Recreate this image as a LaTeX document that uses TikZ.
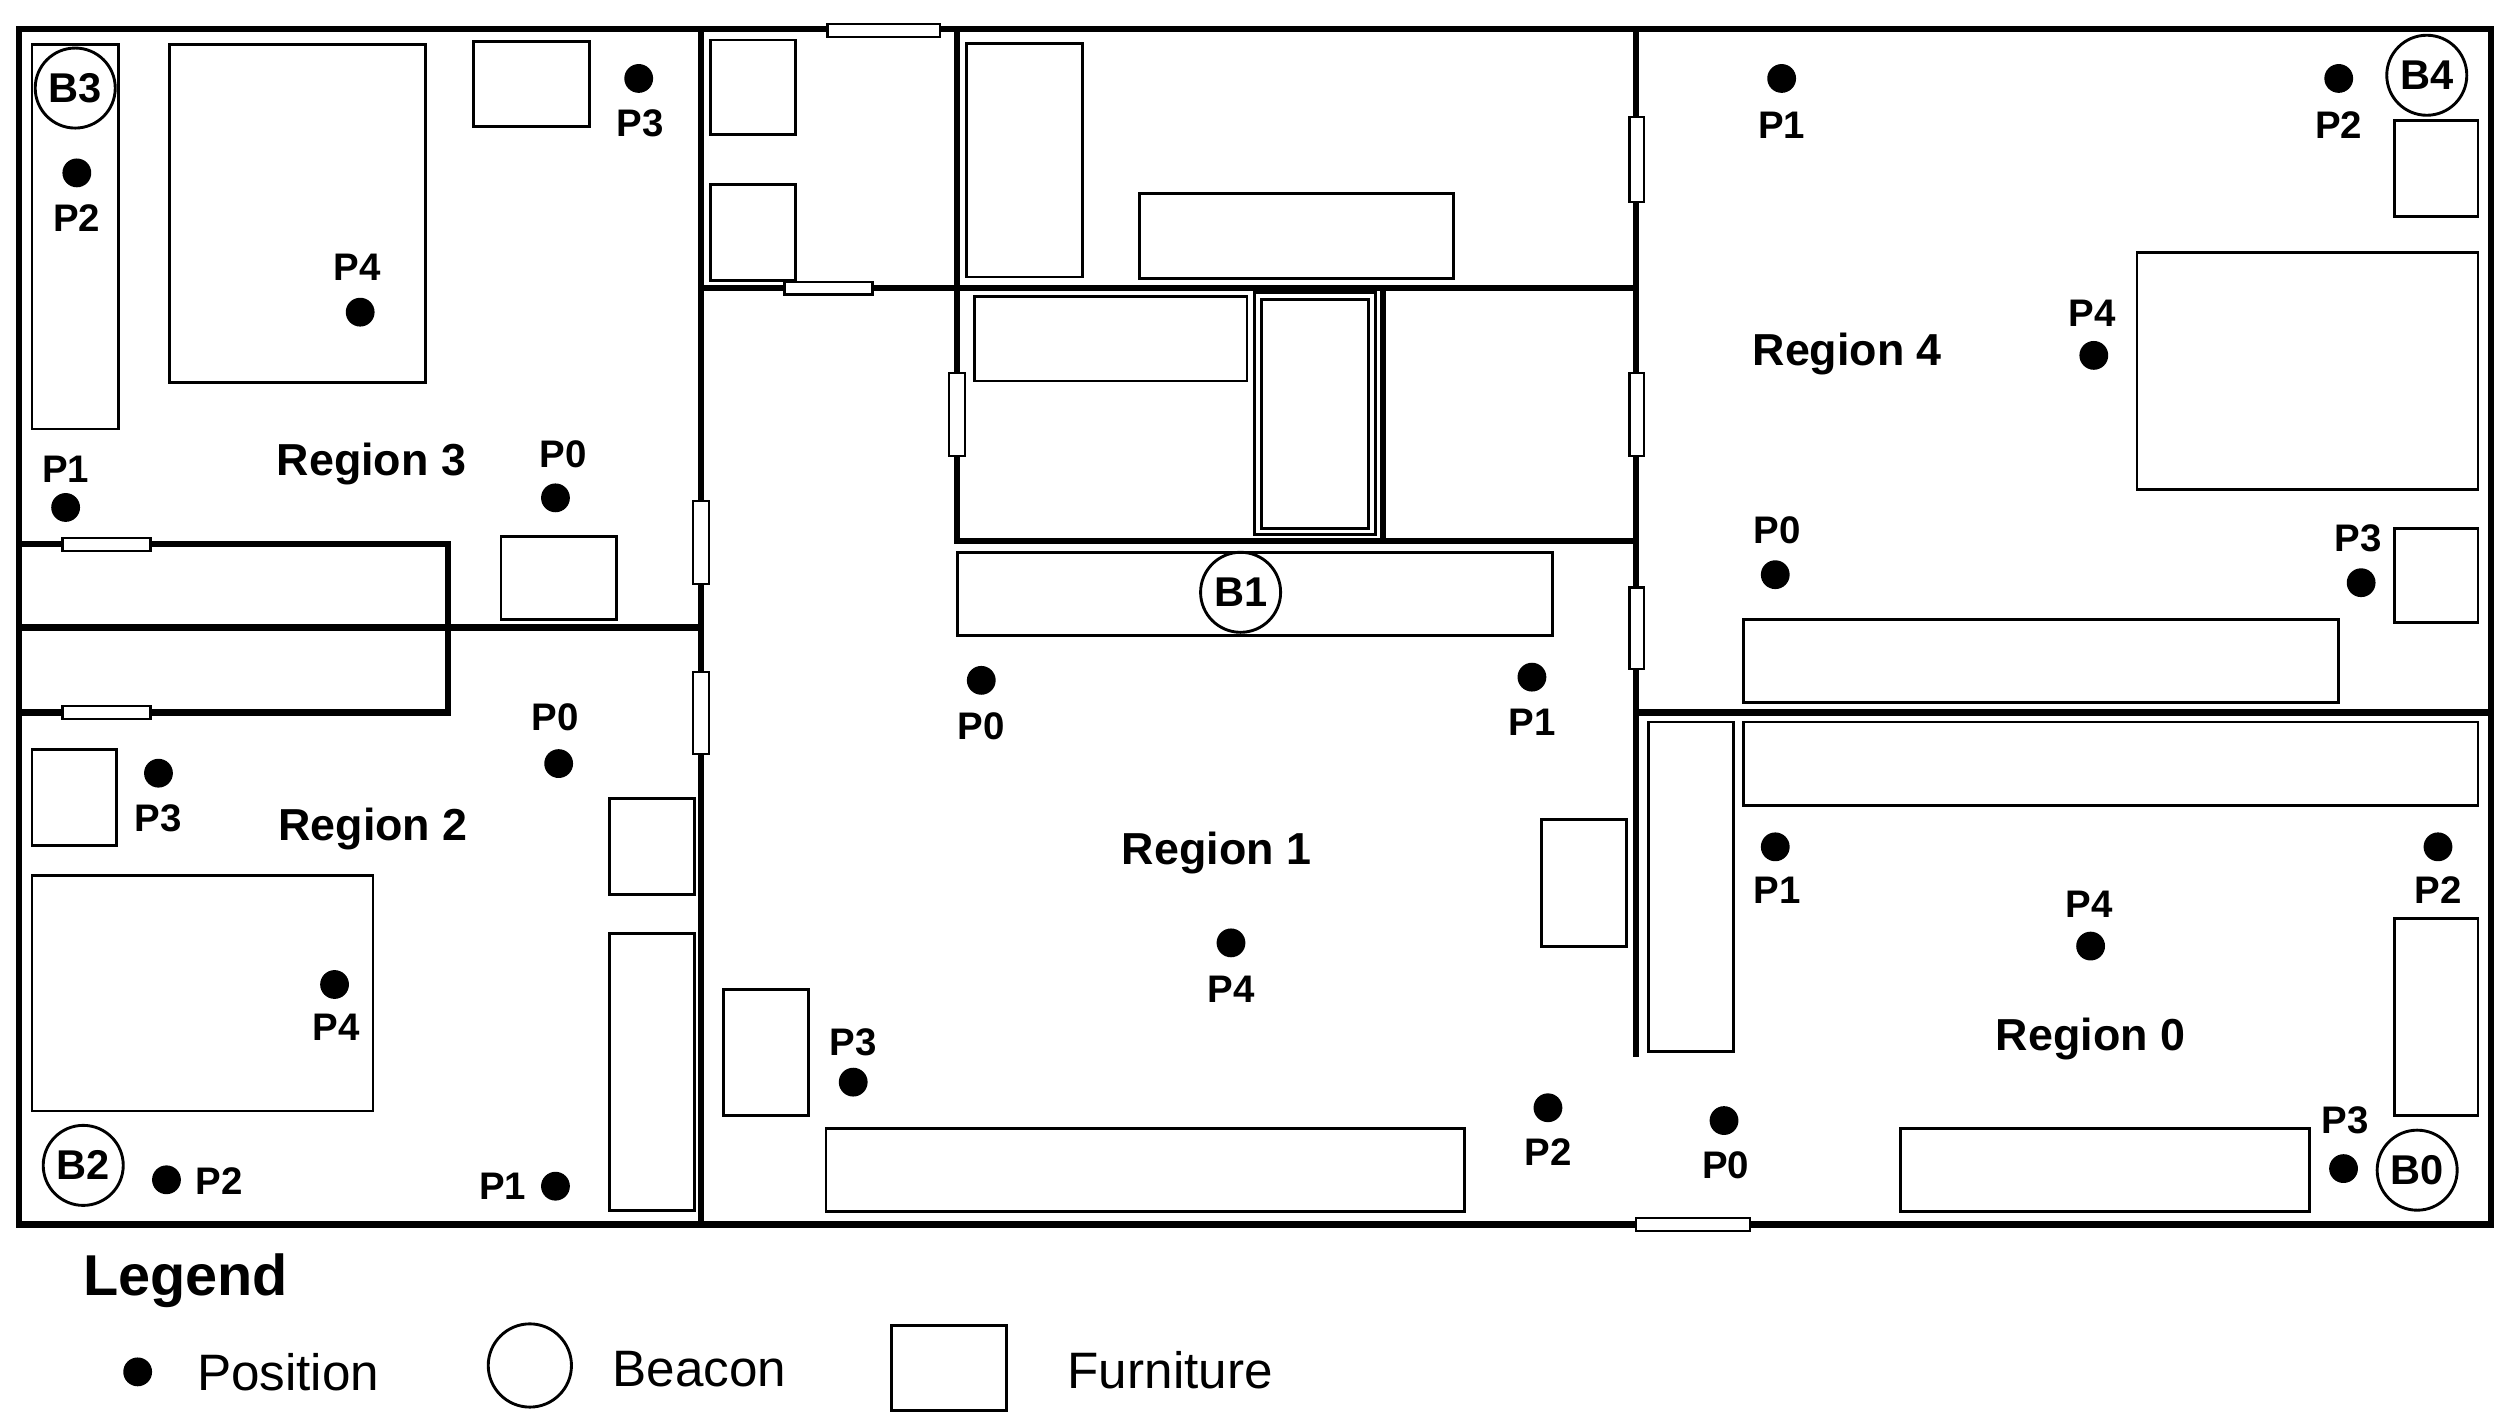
\documentclass[tikz,border=0pt]{standalone}
\usepackage{fontspec}
\setmainfont{Liberation Sans}
\begin{document}
\begin{tikzpicture}[x=0.5pt,y=-0.5pt,
 wall/.style={line width=2pt},
 furn/.style={draw,line width=0.9pt},
 door/.style={draw,fill=white,line width=0.7pt},
 posdot/.style={circle,fill=black,inner sep=0pt,minimum size=9pt},
 lab/.style={font=\bfseries\fontsize{12}{14}\selectfont,inner sep=0pt},
 reg/.style={font=\bfseries\fontsize{14}{16}\selectfont,inner sep=0pt},
 bea/.style={circle,draw,line width=0.9pt,minimum size=25pt,inner sep=0pt,font=\bfseries\fontsize{13}{15}\selectfont}]
\useasboundingbox (0,0) rectangle (1568,891);
% walls
\draw[wall] (12,18) rectangle (1556,765);
\draw[wall] (438,18) -- (438,765);
\draw[wall] (12,392) -- (438,392);
\draw[wall] (12,340) -- (280,340) -- (280,445) -- (12,445);
\draw[wall] (438,180) -- (1022,180);
\draw[wall] (598,18) -- (598,338) -- (1022,338);
\draw[wall] (1022,18) -- (1022,660);
\draw[wall] (864,180) -- (864,338);
\draw[wall] (1022,445) -- (1556,445);
% doors
\foreach \a/\b/\c/\d [count=\i] in {517/15/587/23,490/176/545/184,39/336/94/344,39/441/94/449,433/313/443/365,433/420/443/471,593/233/603/285,1018/73/1027/126,1018/233/1027/285,1018/367/1027/418,1022/761/1093/769}
 \draw[door] (\a,\b) rectangle (\c,\d) coordinate (door\i);
% furniture
\foreach \a/\b/\c/\d [count=\i] in {20/28/74/268,106/28/266/239,296/26/368/79,313/335/385/387,444/25/497/84,444/115/497/175,604/27/676/173,712/121/908/174,609/185/779/238,598/345/970/397,1496/75/1548/135,1335/158/1548/306,1496/330/1548/389,1089/387/1461/439,1089/451/1548/503,1030/451/1083/657,1496/574/1548/697,1187/705/1443/757,963/512/1016/591,452/618/505/697,516/705/915/757,20/468/73/528,20/547/233/694,381/499/434/559,381/583/434/756}
 \draw[furn] (\a,\b) rectangle (\c,\d) coordinate (f\i);
\draw[furn,double,double distance=1.2pt] (786,185) rectangle (857,332) coordinate (fx);
% positions
\foreach \x/\y/\lx/\ly/\t [count=\i] in {
 399/49/400/77/P3, 48/108/48/136/P2, 225/195/223/167/P4, 41/317/41/293/P1, 347/311/352/284/P0,
 349/477/347/448/P0, 99/483/99/511/P3, 209/615/210/642/P4, 104/737/137/738/P2, 347/741/314/741/P1,
 613/425/613/454/P0, 957/423/957/451/P1, 769/589/769/618/P4, 533/676/533/651/P3, 967/692/967/720/P2,
 1077/700/1078/728/P0, 1113/49/1113/78/P1, 1461/49/1461/78/P2, 1308/222/1307/196/P4, 1109/359/1110/331/P0,
 1475/364/1473/336/P3, 1109/529/1110/556/P1, 1523/529/1523/556/P2, 1306/591/1305/565/P4, 1464/730/1465/700/P3}
 {\node[posdot] (p\i) at (\x,\y) {}; \node[lab] (l\i) at (\lx,\ly) {\t};}
% beacons
\node[bea] (B3) at (47,55) {B3};
\node[bea] (B2) at (52,728) {B2};
\node[bea] (B1) at (775,370) {B1};
\node[bea] (B4) at (1516,47) {B4};
\node[bea] (B0) at (1510,731) {B0};
% region labels
\node[reg] (r3) at (232,290) {Region 3};
\node[reg] (r2) at (233,518) {Region 2};
\node[reg] (r1) at (760,533) {Region 1};
\node[reg] (r4) at (1154,221) {Region 4};
\node[reg] (r0) at (1306,649) {Region 0};
% legend
\node[font=\bfseries\fontsize{18}{20}\selectfont] (leg) at (116,800) {Legend};
\node[posdot] (lp) at (86,857) {};
\node[font=\fontsize{16}{18}\selectfont] (lpt) at (180,857) {Position};
\node[circle,draw,line width=0.9pt,minimum size=26pt] (lb) at (331,853) {};
\node[font=\fontsize{16}{18}\selectfont] (lbt) at (437,855) {Beacon};
\draw[furn] (557,828) rectangle (629,881) coordinate (lf);
\node[font=\fontsize{16}{18}\selectfont] (lft) at (731,856) {Furniture};
\end{tikzpicture}
\end{document}
